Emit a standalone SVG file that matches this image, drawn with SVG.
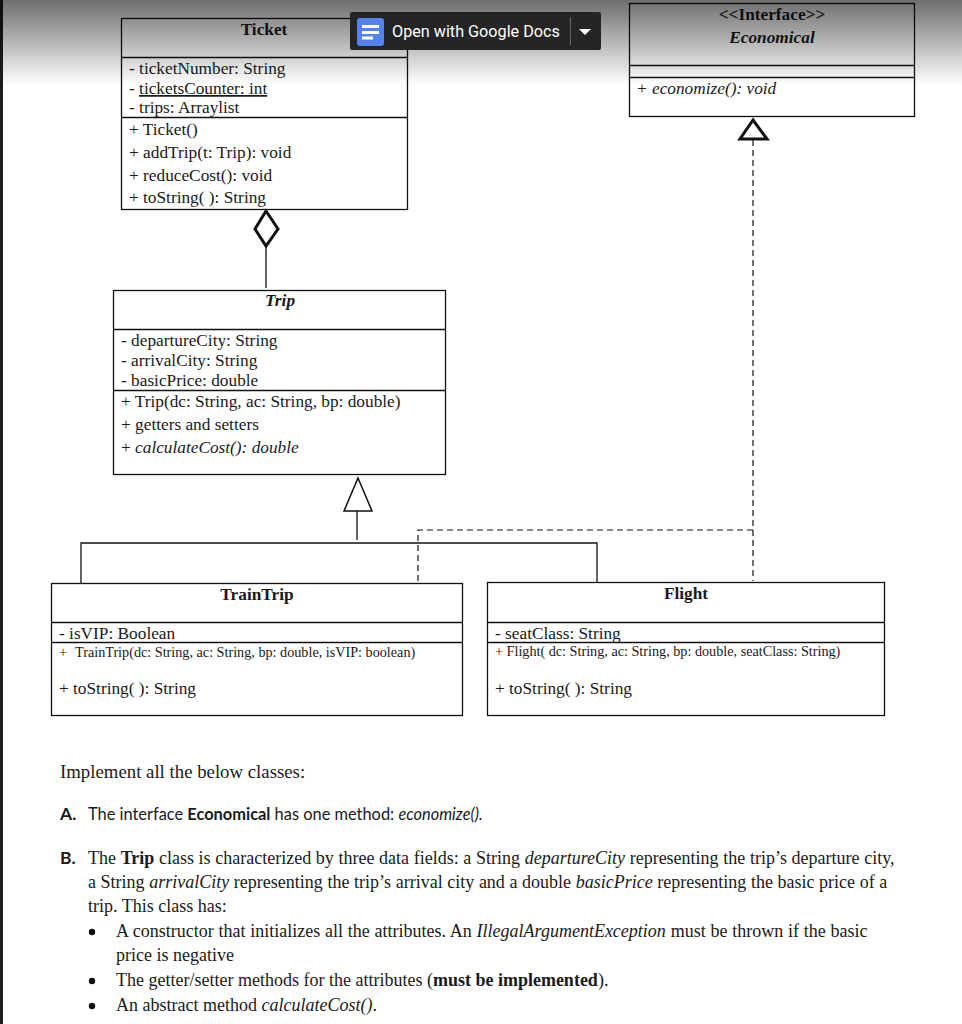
<svg xmlns="http://www.w3.org/2000/svg" width="962" height="1024" viewBox="0 0 962 1024">
<style>
text{font-family:"Liberation Serif","Times New Roman",serif;fill:#1a1a1a;font-size:17.3px}
.b{font-weight:bold}.i{font-style:italic}
.box{fill:none;stroke:#111;stroke-width:1.3}
.ln{stroke:#111;stroke-width:1.3;fill:none}
.d{stroke:#111;stroke-width:1.2;fill:none;stroke-dasharray:6 4}
.s{font-size:14.2px}
.c{font-family:Lato,"Noto Sans",sans-serif;font-size:16.4px}
.l{font-family:Lato,"Noto Sans",sans-serif;font-size:17.5px;font-weight:bold}
.t{font-size:18px}
</style>
<defs><linearGradient id="g" x1="0" y1="0" x2="0" y2="1"><stop offset="0" stop-color="#000" stop-opacity=".57"/><stop offset="1" stop-color="#000" stop-opacity="0"/></linearGradient></defs>
<rect width="962" height="1024" fill="#fff"/>
<rect id="edge" x="0" y="0" width="3" height="1024" fill="#1c1c1c"/>
<g id="connectors">
<path class="ln" d="M266 245V288"/>
<path d="M266 211L278 229L266 246L255 229Z" fill="#fff" stroke="#111" stroke-width="3"/>
<path class="ln" d="M357 511V540M81 583V543H597V583"/>
<path d="M358 478L372 511H344Z" fill="#fff" stroke="#111" stroke-width="1.5"/>
<path class="d" d="M418 581V530H753"/>
<path class="d" d="M753 140V581"/>
<path d="M753 120L767 139H740Z" fill="#fff" stroke="#111" stroke-width="3"/>
</g>
<g id="ticket">
<rect class="box" x="121.500" y="18.500" width="286" height="191"/>
<path class="ln" d="M122 57.500H407M122 117.500H407"/>
<text class="b" x="264" y="35" text-anchor="middle">Ticket</text>
<text x="129" y="74">- ticketNumber: String</text>
<text x="129" y="94">- <tspan text-decoration="underline">ticketsCounter: int</tspan></text>
<text x="129" y="113">- trips: Arraylist</text>
<text x="129" y="135">+ Ticket()</text>
<text x="129" y="157.500">+ addTrip(t: Trip): void</text>
<text x="129" y="180.500">+ reduceCost(): void</text>
<text x="129" y="203">+ toString( ): String</text>
</g>
<g id="economical">
<rect class="box" x="629.500" y="3.500" width="285" height="113"/>
<path class="ln" d="M630 65.500H914M630 77.500H914"/>
<text class="b" x="772" y="20" text-anchor="middle">&lt;&lt;Interface&gt;&gt;</text>
<text class="b i" x="772" y="43" text-anchor="middle">Economical</text>
<text class="i" x="636" y="94">+ economize(): void</text>
</g>
<g id="trip">
<rect class="box" x="113.500" y="290.500" width="332" height="184"/>
<path class="ln" d="M114 329.500H445M114 390.500H445"/>
<text class="b i" x="280" y="306" text-anchor="middle">Trip</text>
<text x="121" y="346">- departureCity: String</text>
<text x="121" y="366">- arrivalCity: String</text>
<text x="121" y="386">- basicPrice: double</text>
<text x="121" y="407">+ Trip(dc: String, ac: String, bp: double)</text>
<text x="121" y="430">+ getters and setters</text>
<text x="121" y="453">+ <tspan class="i">calculateCost(): double</tspan></text>
</g>
<g id="traintrip">
<rect class="box" x="51.500" y="583.500" width="411" height="132"/>
<path class="ln" d="M52 622.500H462M52 642.500H462"/>
<text class="b" x="257" y="600" text-anchor="middle">TrainTrip</text>
<text x="59" y="639">- isVIP: Boolean</text>
<text class="s" x="59" y="657">+</text>
<text class="s" x="75" y="657">TrainTrip(dc: String, ac: String, bp: double, isVIP: boolean)</text>
<text x="59" y="694">+ toString( ): String</text>
</g>
<g id="flight">
<rect class="box" x="487.500" y="582.500" width="397" height="133"/>
<path class="ln" d="M488 622.500H884M488 642.500H884"/>
<text class="b" x="686" y="599" text-anchor="middle">Flight</text>
<text x="495" y="639">- seatClass: String</text>
<text class="s" x="495" y="656">+ Flight( dc: String, ac: String, bp: double, seatClass: String)</text>
<text x="495" y="694">+ toString( ): String</text>
</g>
<g id="body">
<text class="t" x="60" y="778" style="font-size:18.8px">Implement all the below classes:</text>
<text class="l" x="60" y="820">A.</text>
<text class="c" x="88" y="820">The interface <tspan class="b">Economical</tspan> has one method: <tspan class="i">economize().</tspan></text>
<text class="l" x="60" y="864">B.</text>
<text class="t" x="88" y="864" word-spacing=".15">The <tspan class="b">Trip</tspan> class is characterized by three data fields: a String <tspan class="i">departureCity</tspan> representing the trip’s departure city,</text>
<text class="t" x="88" y="888" word-spacing=".12">a String <tspan class="i">arrivalCity</tspan> representing the trip’s arrival city and a double <tspan class="i">basicPrice</tspan> representing the basic price of a</text>
<text class="t" x="88" y="912">trip. This class has:</text>
<circle cx="92" cy="932" r="3.200" fill="#111"/>
<text class="t" x="116" y="937" word-spacing=".27">A constructor that initializes all the attributes. An <tspan class="i">IllegalArgumentException</tspan> must be thrown if the basic</text>
<text class="t" x="116" y="961">price is negative</text>
<circle cx="92" cy="981" r="3.200" fill="#111"/>
<text class="t" x="116" y="986">The getter/setter methods for the attributes (<tspan class="b">must be implemented</tspan>).</text>
<circle cx="92" cy="1006" r="3.200" fill="#111"/>
<text class="t" x="116" y="1011">An abstract method <tspan class="i">calculateCost()</tspan>.</text>
</g>
<rect id="shade" x="0" y="0" width="962" height="85" fill="url(#g)"/>
<g id="docs-button">
<rect x="350" y="12" width="251" height="38" rx="2" fill="#252525"/>
<rect x="357" y="18" width="27" height="28" rx="3" fill="#5383ec"/>
<path d="M362 26.500H379M362 32.500H379M362 38H373" stroke="#fff" stroke-width="2.800"/>
<text x="392" y="37" style="font-family:Roboto,'Open Sans',sans-serif;font-size:16.200px;fill:#fff">Open with Google Docs</text>
<path d="M570.500 17V45" stroke="#666"/>
<path d="M579 29H591L585 35Z" fill="#fff"/>
</g>
</svg>
